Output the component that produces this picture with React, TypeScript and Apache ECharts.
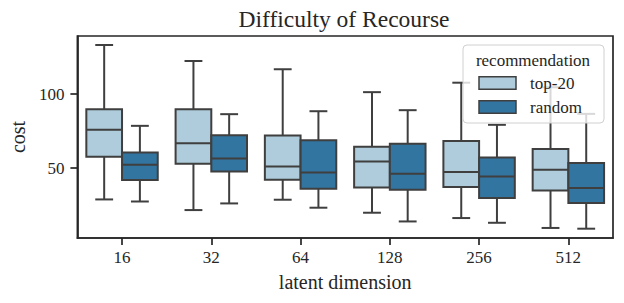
import React, { useEffect, useRef } from "react";
import * as echarts from "echarts";

const categories = ["16", "32", "64", "128", "256", "512"];
// [low whisker, Q1, median, Q3, high whisker]
const top20 = [
  [28.8, 57.6, 75.9, 89.9, 133.3],
  [21.6, 52.9, 66.9, 89.9, 122.5],
  [28.6, 42.1, 51.1, 72.0, 116.9],
  [19.8, 36.9, 54.5, 64.4, 101.4],
  [16.2, 37.2, 47.3, 68.4, 107.8],
  [9.5, 34.9, 48.9, 63.0, 104.7],
];
const random = [
  [27.4, 41.9, 52.2, 60.5, 78.6],
  [26.1, 47.7, 56.5, 72.3, 86.5],
  [23.2, 36.0, 47.0, 68.9, 88.5],
  [13.9, 35.3, 46.1, 66.4, 89.2],
  [13.0, 29.7, 44.3, 57.2, 79.3],
  [9.0, 26.4, 36.5, 53.4, 86.7],
];
const yTicks = [50, 100];
const seriesNames = ["top-20", "random"];
const legendTitle = "recommendation";

const LIGHT = "#aeccdb";
const DARK = "#3275a1";
const LINE = "#3f3f3f";
const AXIS = "#262626";
const FONT = "Liberation Serif";

function makeRender(side: number, fill: string) {
  return (params: any, api: any) => {
    const i = api.value(0);
    const low = api.value(1);
    const q1 = api.value(2);
    const med = api.value(3);
    const q3 = api.value(4);
    const high = api.value(5);
    const band = api.size([1, 0])[0];
    const bw = band * 0.4;
    const c = api.coord([i, med]);
    const cx = c[0] + (side * bw) / 2;
    const y = (v: number) => api.coord([i, v])[1];
    const cap = bw / 2;
    const ls = { stroke: LINE, lineWidth: 2, fill: null };
    return {
      type: "group",
      children: [
        { type: "line", shape: { x1: cx, y1: y(low), x2: cx, y2: y(q1) }, style: ls },
        { type: "line", shape: { x1: cx, y1: y(q3), x2: cx, y2: y(high) }, style: ls },
        { type: "line", shape: { x1: cx - cap / 2, y1: y(low), x2: cx + cap / 2, y2: y(low) }, style: ls },
        { type: "line", shape: { x1: cx - cap / 2, y1: y(high), x2: cx + cap / 2, y2: y(high) }, style: ls },
        {
          type: "rect",
          shape: { x: cx - bw / 2, y: y(q3), width: bw, height: y(q1) - y(q3) },
          style: { fill, stroke: LINE, lineWidth: 2 },
        },
        { type: "line", shape: { x1: cx - bw / 2, y1: y(med), x2: cx + bw / 2, y2: y(med) }, style: ls },
      ],
    };
  };
}

export default function App() {
  const ref = useRef<HTMLDivElement>(null);
  useEffect(() => {
    document.body.style.margin = "0";
    const chart = echarts.init(ref.current!, null, { renderer: "svg" });
    const toData = (arr: number[][]) => arr.map((r, i) => [i, ...r]);
    const txt = (text: string, x: number, y: number, size: number, align: string) => ({
      type: "text",
      x,
      y,
      z: 100,
      style: {
        text,
        fontFamily: FONT,
        fontSize: size,
        fill: AXIS,
        textAlign: align,
        textVerticalAlign: "middle",
      },
    });
    const swatch = (y: number, fill: string) => ({
      type: "rect",
      z: 100,
      shape: { x: 479, y, width: 37, height: 12.6 },
      style: { fill, stroke: LINE, lineWidth: 1.5 },
    });
    chart.setOption({
      animation: false,
      textStyle: { fontFamily: FONT },
      grid: {
        left: 75,
        right: 11,
        top: 36,
        bottom: 65,
        show: true,
        borderColor: AXIS,
        borderWidth: 1.7,
        backgroundColor: "transparent",
      },
      graphic: [
        txt("Difficulty of Recourse", 344, 18.5, 23.5, "center"),
        {
          type: "rect",
          z: 99,
          shape: { x: 463, y: 45, width: 141, height: 78, r: 4 },
          style: { fill: "rgba(255,255,255,0.8)", stroke: "#d0d0d0", lineWidth: 1 },
        },
        txt(legendTitle, 533, 60, 17, "center"),
        swatch(76.7, LIGHT),
        txt(seriesNames[0], 530, 83, 17, "left"),
        swatch(100.7, DARK),
        txt(seriesNames[1], 530, 107, 17, "left"),
      ],
      xAxis: {
        type: "category",
        data: categories,
        name: "latent dimension",
        nameLocation: "middle",
        nameGap: 34,
        nameTextStyle: { fontFamily: FONT, fontSize: 20, color: AXIS },
        axisLine: { show: true, lineStyle: { color: AXIS, width: 1.7 } },
        axisTick: { show: true, alignWithLabel: true, length: 7, lineStyle: { color: AXIS, width: 1.7 } },
        axisLabel: { fontFamily: FONT, fontSize: 17, color: AXIS, margin: 11 },
        splitLine: { show: false },
      },
      yAxis: {
        type: "value",
        min: 2.7,
        max: 139.4,
        name: "cost",
        nameLocation: "middle",
        nameGap: 46,
        nameRotate: 90,
        nameTextStyle: { fontFamily: FONT, fontSize: 20, color: AXIS },
        axisLine: { show: true, lineStyle: { color: AXIS, width: 1.7 } },
        axisTick: { show: true, length: 7, customValues: yTicks, lineStyle: { color: AXIS, width: 1.7 } },
        axisLabel: { fontFamily: FONT, fontSize: 17, color: AXIS, margin: 13, customValues: yTicks },
        splitLine: { show: false },
      },
      series: [
        {
          type: "custom",
          name: seriesNames[0],
          renderItem: makeRender(-1, LIGHT),
          itemStyle: { color: LIGHT },
          encode: { x: 0, y: [1, 2, 3, 4, 5] },
          data: toData(top20),
          z: 2,
        },
        {
          type: "custom",
          name: seriesNames[1],
          renderItem: makeRender(1, DARK),
          itemStyle: { color: DARK },
          encode: { x: 0, y: [1, 2, 3, 4, 5] },
          data: toData(random),
          z: 2,
        },
      ],
    });
    return () => chart.dispose();
  }, []);
  return <div ref={ref} style={{ width: 624, height: 303 }} />;
}
